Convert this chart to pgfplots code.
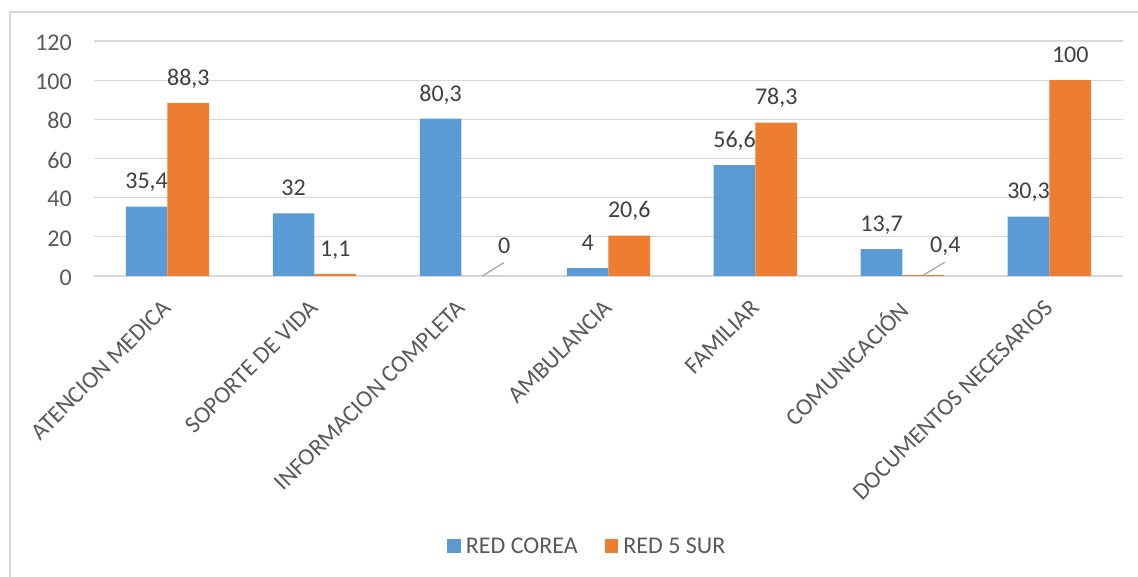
\documentclass[border=0pt]{standalone}
\usepackage{fontspec}
\setmainfont{Carlito}
\usepackage{pgfplots}
\usepackage{pgfplotstable}
\pgfplotsset{compat=1.18}

\definecolor{corea}{HTML}{5B9BD5}
\definecolor{sur}{HTML}{ED7D31}
\definecolor{axistext}{HTML}{595959}
\definecolor{labeltext}{HTML}{404040}
\definecolor{gridgray}{HTML}{D9D9D9}
\definecolor{leader}{HTML}{A6A6A6}
\newcommand{\chartfont}{\fontsize{24bp}{28bp}\selectfont}

% RED COREA
\pgfplotstableread{
idx val
0 35.4
1 32
2 80.3
3 4
4 56.6
5 13.7
6 30.3
}\redcorea

% RED 5 SUR
\pgfplotstableread{
idx val
0 88.3
1 1.1
2 0
3 20.6
4 78.3
5 0.4
6 100
}\redsur

\begin{document}
\begin{tikzpicture}
% chart frame
\draw[gridgray, line width=1.3bp] (10bp,-3bp) -- (10bp,565bp) -- (1145bp,565bp);

\begin{axis}[
  at={(94bp,301bp)}, anchor=south west,
  scale only axis, width=1029bp, height=235bp,
  xmin=-0.5, xmax=6.5, ymin=0, ymax=120,
  enlargelimits=false, clip=false,
  ybar=0pt, bar width=41.7bp,
  axis line style={draw=none},
  major tick length=0pt,
  ytick={0,20,...,120},
  xtick={0,...,6},
  xticklabels={ATENCION MEDICA, SOPORTE DE VIDA, INFORMACION COMPLETA, AMBULANCIA, FAMILIAR, COMUNICACIÓN, DOCUMENTOS NECESARIOS},
  ymajorgrids,
  grid style={draw=gridgray, line width=1.3bp},
  tick label style={font=\chartfont, text=axistext},
  yticklabel style={anchor=east, inner sep=0pt, xshift=-22bp, yshift=-1.5bp},
  xticklabel style={inner sep=0pt, text depth=0pt, xshift=-6bp, yshift=-22bp, rotate=45, anchor=north east},
  /pgf/number format/.cd, use comma, assume math mode=true, /pgfplots/.cd,
  every node near coord/.append style={font=\chartfont, text=labeltext, inner sep=0pt, text depth=0pt, anchor=south, yshift=17.5bp},
  legend columns=2,
  legend style={at={(axis description cs:0.3433,-1.148)}, anchor=west,
    draw=none, fill=none, inner sep=0pt, outer sep=0pt,
    font=\chartfont, text=axistext,
    nodes={inner sep=0pt, text depth=0pt},
    /tikz/every odd column/.append style={column sep=5bp},
    /tikz/every even column/.append style={column sep=27bp}},
]
\addplot[fill=corea, draw=none, bar shift=-20.85bp, nodes near coords,
  legend image code/.code={\fill[corea] (0bp,-6.85bp) rectangle (13.7bp,6.85bp);}]
  table[x=idx, y=val]{\redcorea};
\addlegendentry{RED COREA}
\addplot[fill=sur, draw=none, bar shift=20.85bp,
  legend image code/.code={\fill[sur] (0bp,-6.85bp) rectangle (13.7bp,6.85bp);}]
  table[x=idx, y=val]{\redsur};
\addlegendentry{RED 5 SUR}

% value labels of RED 5 SUR above their bars
\addplot[draw=none, fill=none, bar shift=20.85bp, forget plot, nodes near coords,
  skip coords between index={2}{3}, skip coords between index={5}{6}]
  table[x=idx, y=val]{\redsur};
% labels of the near-zero bars, set aside with leader lines
\addplot[draw=none, fill=none, bar shift=20.85bp, forget plot, nodes near coords,
  skip coords between index={0}{2}, skip coords between index={3}{5}, skip coords between index={6}{7},
  every node near coord/.append style={xshift=22bp, yshift=5bp}]
  table[x=idx, y=val]{\redsur};

\addplot[sharp plot, no marks, draw=leader, line width=1.2bp, forget plot]
  coordinates {(2.142,0) (2.289,6.8)};
\addplot[sharp plot, no marks, draw=leader, line width=1.2bp, forget plot]
  coordinates {(5.142,0.4) (5.29,7.1)};
\end{axis}

\pgfresetboundingbox
\useasboundingbox (0,0) rectangle (1138bp,577bp);
\end{tikzpicture}
\end{document}
